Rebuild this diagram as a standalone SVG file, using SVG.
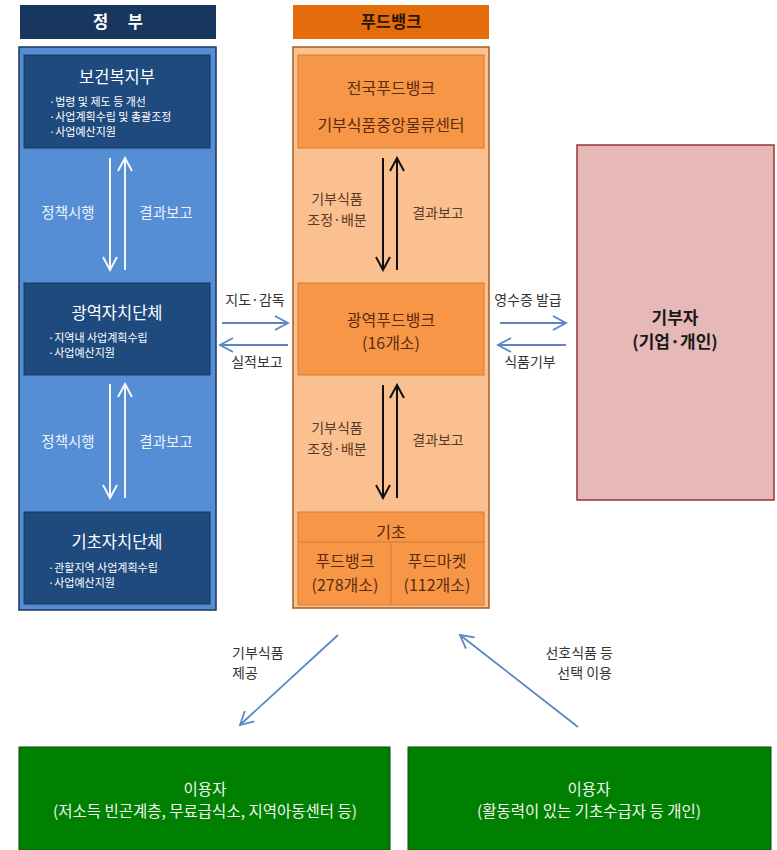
<svg xmlns="http://www.w3.org/2000/svg" width="777" height="850" viewBox="0 0 777 850">
<style>
text{font-family:"Malgun Gothic","Noto Sans CJK KR","Noto Sans",sans-serif;}
.hdr{font-weight:bold;font-size:16.5px;text-anchor:middle;}
.ttl{font-size:16.5px;text-anchor:middle;fill:#ffffff;}
.bul{font-size:11px;fill:#ffffff;}
.wl{font-size:14.5px;text-anchor:middle;fill:#eef3fb;}
.ol{font-size:16px;text-anchor:middle;fill:#5a2c10;}
.bl{font-size:14px;text-anchor:middle;fill:#5a3a26;}
.ext{font-size:14px;text-anchor:middle;fill:#333333;}
.gr{font-size:15.5px;text-anchor:middle;fill:#f4f4f4;}
.inb{fill:#1f4a7e;stroke:#17375e;stroke-width:1;}
.ofb{fill:#f79646;stroke:#d57a35;stroke-width:1;}
.wa{stroke:#f4f6fa;stroke-width:2;fill:none;}
.ka{stroke:#111111;stroke-width:2;fill:none;}
.ba{stroke:#5b86c2;stroke-width:1.8;fill:none;}
</style>
<defs>
<marker id="mw" viewBox="0 0 16 16" refX="14" refY="8" markerWidth="16" markerHeight="16" markerUnits="userSpaceOnUse" orient="auto"><path d="M1,1 L14,8 L1,15" fill="none" stroke="#f4f6fa" stroke-width="2"/></marker>
<marker id="mk" viewBox="0 0 16 16" refX="14" refY="8" markerWidth="16" markerHeight="16" markerUnits="userSpaceOnUse" orient="auto"><path d="M1,1 L14,8 L1,15" fill="none" stroke="#111111" stroke-width="2"/></marker>
<marker id="mb" viewBox="0 0 16 16" refX="14" refY="8" markerWidth="16" markerHeight="16" markerUnits="userSpaceOnUse" orient="auto"><path d="M1,1 L14,8 L1,15" fill="none" stroke="#5b86c2" stroke-width="1.8"/></marker>
</defs>
<rect width="777" height="850" fill="#ffffff"/>

<g id="gov-header">
<rect x="20" y="5" width="196" height="34" fill="#17375e"/>
<text x="122" y="28" class="hdr" fill="#ffffff" font-size="17" letter-spacing="8">정 부</text>
</g>
<g id="gov-panel">
<rect x="19" y="47" width="197" height="563" fill="#558ed5" stroke="#17375e" stroke-width="1.5"/>
</g>
<g id="mohw">
<rect x="24" y="55" width="186" height="93" class="inb"/>
<text x="117" y="83" class="ttl">보건복지부</text>
<text x="49" y="106" class="bul">·법령 및 제도 등 개선</text>
<text x="49" y="121" class="bul">·사업계획수립 및 총괄조정</text>
<text x="49" y="136" class="bul">·사업예산지원</text>
</g>
<g id="metro-gov">
<rect x="24" y="283" width="186" height="92" class="inb"/>
<text x="117" y="319" class="ttl">광역자치단체</text>
<text x="48" y="342" class="bul">·지역내 사업계획수립</text>
<text x="48" y="357" class="bul">·사업예산지원</text>
</g>
<g id="local-gov">
<rect x="24" y="512" width="186" height="92" class="inb"/>
<text x="117" y="548" class="ttl">기초자치단체</text>
<text x="48" y="572" class="bul">·관할지역 사업계획수립</text>
<text x="48" y="587" class="bul">·사업예산지원</text>
</g>

<g id="fb-header">
<rect x="293" y="5" width="196" height="34" fill="#e46c0a"/>
<text x="391" y="28" class="hdr" fill="#2e1606">푸드뱅크</text>
</g>
<g id="fb-panel">
<rect x="293" y="47" width="196" height="561" fill="#fbc08f" stroke="#a65a22" stroke-width="1.5"/>
</g>
<g id="national-fb">
<rect x="298" y="55" width="186" height="93" class="ofb"/>
<text x="391" y="94" class="ol">전국푸드뱅크</text>
<text x="391" y="131" class="ol">기부식품중앙물류센터</text>
</g>
<g id="metro-fb">
<rect x="298" y="283" width="186" height="92" class="ofb"/>
<text x="391" y="326" class="ol">광역푸드뱅크</text>
<text x="391" y="349" class="ol">(16개소)</text>
</g>
<g id="basic-fb">
<rect x="298" y="512" width="186" height="93" class="ofb"/>
<line x1="298" y1="542" x2="484" y2="542" stroke="#d57a35" stroke-width="1"/>
<line x1="391" y1="542" x2="391" y2="605" stroke="#d57a35" stroke-width="1"/>
<text x="391" y="538" class="ol">기초</text>
<text x="345" y="567" class="ol">푸드뱅크</text>
<text x="345" y="591" class="ol">(278개소)</text>
<text x="437" y="567" class="ol">푸드마켓</text>
<text x="437" y="591" class="ol">(112개소)</text>
</g>

<g id="donor">
<rect x="577" y="145" width="197" height="355" fill="#e6b9b8" stroke="#953735" stroke-width="1.5"/>
<text x="675" y="324" font-size="17" font-weight="bold" text-anchor="middle" fill="#1a1a1a">기부자</text>
<text x="675" y="348" font-size="17" font-weight="bold" text-anchor="middle" fill="#1a1a1a">(기업·개인)</text>
</g>

<g id="user-1">
<rect x="19" y="747" width="371" height="103" fill="#008000" stroke="#0b4d0b" stroke-width="1"/>
<text x="205" y="795" class="gr">이용자</text>
<text x="205" y="817" class="gr">(저소득 빈곤계층, 무료급식소, 지역아동센터  등)</text>
</g>
<g id="user-2">
<rect x="408" y="747" width="363" height="103" fill="#008000" stroke="#0b4d0b" stroke-width="1"/>
<text x="589" y="795" class="gr">이용자</text>
<text x="589" y="817" class="gr">(활동력이 있는 기초수급자 등 개인)</text>
</g>

<g id="connectors">
<line x1="110" y1="158" x2="110" y2="270" class="wa" marker-end="url(#mw)"/>
<line x1="125" y1="270" x2="125" y2="158" class="wa" marker-end="url(#mw)"/>
<line x1="110" y1="384" x2="110" y2="498" class="wa" marker-end="url(#mw)"/>
<line x1="125" y1="498" x2="125" y2="384" class="wa" marker-end="url(#mw)"/>
<text x="68" y="218" class="wl">정책시행</text>
<text x="166" y="218" class="wl">결과보고</text>
<text x="68" y="447" class="wl">정책시행</text>
<text x="166" y="447" class="wl">결과보고</text>

<line x1="383" y1="158" x2="383" y2="270" class="ka" marker-end="url(#mk)"/>
<line x1="397" y1="270" x2="397" y2="158" class="ka" marker-end="url(#mk)"/>
<line x1="383" y1="385" x2="383" y2="498" class="ka" marker-end="url(#mk)"/>
<line x1="397" y1="498" x2="397" y2="385" class="ka" marker-end="url(#mk)"/>
<text x="337" y="204" class="bl">기부식품</text>
<text x="337" y="225" class="bl">조정·배분</text>
<text x="438" y="218" class="bl">결과보고</text>
<text x="337" y="433" class="bl">기부식품</text>
<text x="337" y="454" class="bl">조정·배분</text>
<text x="438" y="445" class="bl">결과보고</text>

<line x1="222" y1="323" x2="288" y2="323" class="ba" marker-end="url(#mb)"/>
<line x1="288" y1="345" x2="220" y2="345" class="ba" marker-end="url(#mb)"/>
<text x="255" y="305" class="ext">지도·감독</text>
<text x="257" y="367" class="ext">실적보고</text>

<line x1="500" y1="323" x2="566" y2="323" class="ba" marker-end="url(#mb)"/>
<line x1="566" y1="345" x2="498" y2="345" class="ba" marker-end="url(#mb)"/>
<text x="528" y="305" class="ext">영수증 발급</text>
<text x="530" y="367" class="ext">식품기부</text>

<line x1="338" y1="635" x2="240" y2="725" class="ba" marker-end="url(#mb)"/>
<line x1="578" y1="727" x2="460" y2="635" class="ba" marker-end="url(#mb)"/>
<text x="232" y="658" font-size="14" fill="#333333">기부식품</text>
<text x="232" y="678" font-size="14" fill="#333333">제공</text>
<text x="613" y="658" font-size="14" fill="#333333" text-anchor="end">선호식품 등</text>
<text x="612" y="678" font-size="14" fill="#333333" text-anchor="end">선택 이용</text>
</g>
</svg>
